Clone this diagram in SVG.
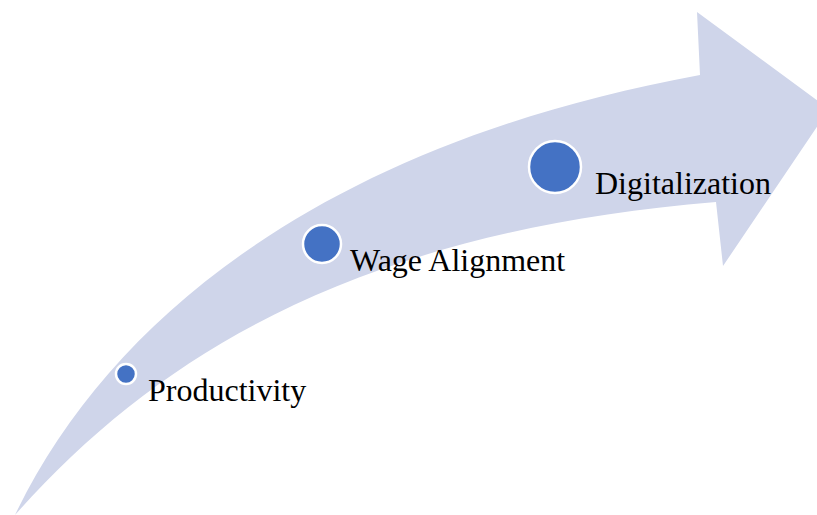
<svg xmlns="http://www.w3.org/2000/svg" width="817" height="515" viewBox="0 0 817 515">
<style>
.dot{fill:#4472C4;stroke:#ffffff;stroke-width:2.5}
.lbl{font-family:"Liberation Serif","Times New Roman",serif;font-size:32px;fill:#000000}
</style>
<rect width="817" height="515" fill="#ffffff"/>
<g id="arrow">
<path d="M15,515 C115,307 340,141 700,75 L697,12 L829,109 L723,266 L716,202 C380,230 170,340 15,515 Z" fill="#CFD5EA"/>
</g>
<g id="connectors"></g>
<g id="node-productivity">
<circle class="dot" cx="126" cy="374" r="10"/>
<text class="lbl" x="148" y="401">Productivity</text>
</g>
<g id="node-wage">
<circle class="dot" cx="322" cy="244" r="19"/>
<text class="lbl" x="350" y="271">Wage Alignment</text>
</g>
<g id="node-digital">
<circle class="dot" cx="555" cy="167" r="26"/>
<text class="lbl" x="595" y="194">Digitalization</text>
</g>
</svg>
